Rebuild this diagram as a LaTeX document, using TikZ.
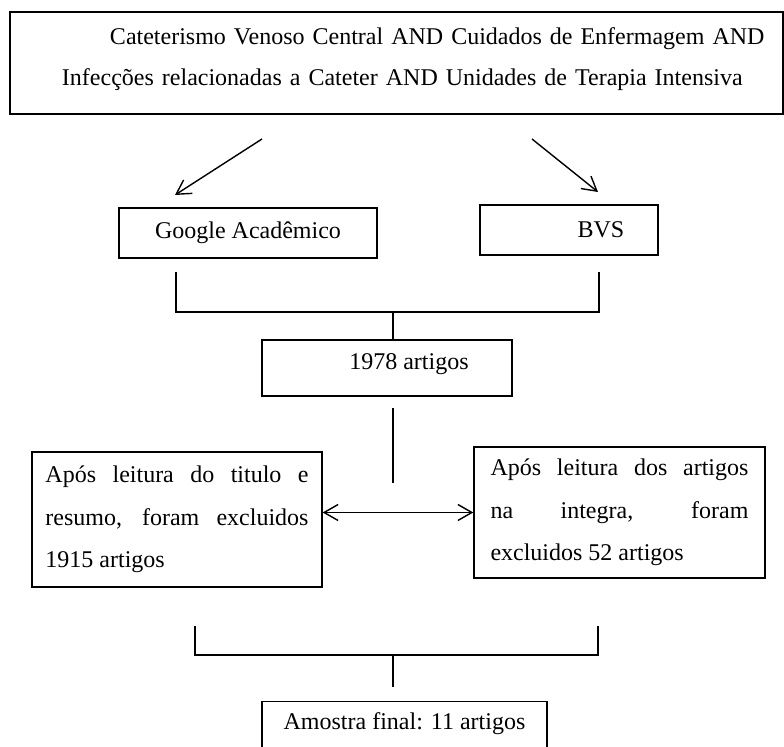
\documentclass[tikz,border=0pt]{standalone}
\usepackage{fontspec}
\setmainfont{Liberation Serif}
\usetikzlibrary{arrows.meta}

\begin{document}
\begin{tikzpicture}[x=0.5pt,y=-0.5pt,line width=0.7pt]
    \tikzstyle{every node}+=[inner sep=0pt, font=\fontsize{12pt}{21.25pt}\selectfont]
    \tikzstyle{box}=[draw=black, line width=0.7pt]
    \tikzstyle{arr}=[-{Straight Barb[length=7pt,width=8pt]}]
    \tikzstyle{arrs}=[{Straight Barb[length=7pt,width=8pt]}-{Straight Barb[length=7pt,width=8pt]}]
    \useasboundingbox (0,0) rectangle (784,747);
    \fill [white] (0,0) rectangle (784,747);
    % descritores
    \node [box, minimum width=386.5pt, minimum height=51pt, text width=380pt, align=left, text depth=27pt,
        font=\fontsize{12pt}{20.5pt}\selectfont] (busca) at (396.5,63)
        {\hspace*{46.75pt}Cateterismo Venoso Central AND Cuidados de Enfermagem AND\\
         \hspace*{22.75pt}Infecções relacionadas a Cateter AND Unidades de Terapia Intensiva};
    \node [box, minimum width=129pt, minimum height=25pt] (google) at (248,233) {Google Acadêmico};
    \node [box, minimum width=89pt, minimum height=25pt] (bvs) at (569,230) {\hspace*{32pt}BVS};
    \node [box, minimum width=125pt, minimum height=28pt, text depth=6.5pt] (total) at (387,368) {\hspace*{22pt}1978 artigos};
    \node [box, minimum width=145pt, minimum height=67.5pt, text width=131.5pt, align=justify] (excl1) at (177,519.5)
        {Após leitura do titulo e\linebreak resumo, foram excluidos\linebreak 1915 artigos};
    \node [box, minimum width=145.5pt, minimum height=65.5pt, text width=129pt, align=justify] (excl2) at (619.5,512.5)
        {Após leitura dos artigos\linebreak na integra, foram\linebreak excluidos 52 artigos};
    \node [box, anchor=north, minimum width=142.5pt, inner ysep=4pt, text height=10pt, text depth=20pt] (final) at (404.5,701)
        {Amostra final: 11 artigos};
    % setas e ligacoes
    \coordinate (q1) at (262,139);
    \coordinate (q2) at (532,139);
    \coordinate (gtip) at (175,195);
    \coordinate (btip) at (598,192);
    \draw [black, arr] (q1) -- (gtip);
    \draw [black, arr] (q2) -- (btip);
    \coordinate (gstub) at (176,272);
    \coordinate (bstub) at (599,272);
    \coordinate (jtop) at (393,312);
    \draw [black] (gstub) |- (jtop) -| (bstub);
    \draw [black] (jtop) -- (jtop |- total.north);
    \coordinate (mtop) at (393,408);
    \coordinate (mbot) at (393,483);
    \draw [black] (mtop) -- (mbot);
    \draw [black, arrs] (excl1.east |- excl2.west) -- (excl2.west);
    \coordinate (lstub) at (195,626);
    \coordinate (rstub) at (598,626);
    \coordinate (jbot) at (393,655);
    \coordinate (fstub) at (393,687);
    \draw [black] (lstub) |- (jbot) -| (rstub);
    \draw [black] (jbot) -- (fstub);
\end{tikzpicture}
\end{document}
